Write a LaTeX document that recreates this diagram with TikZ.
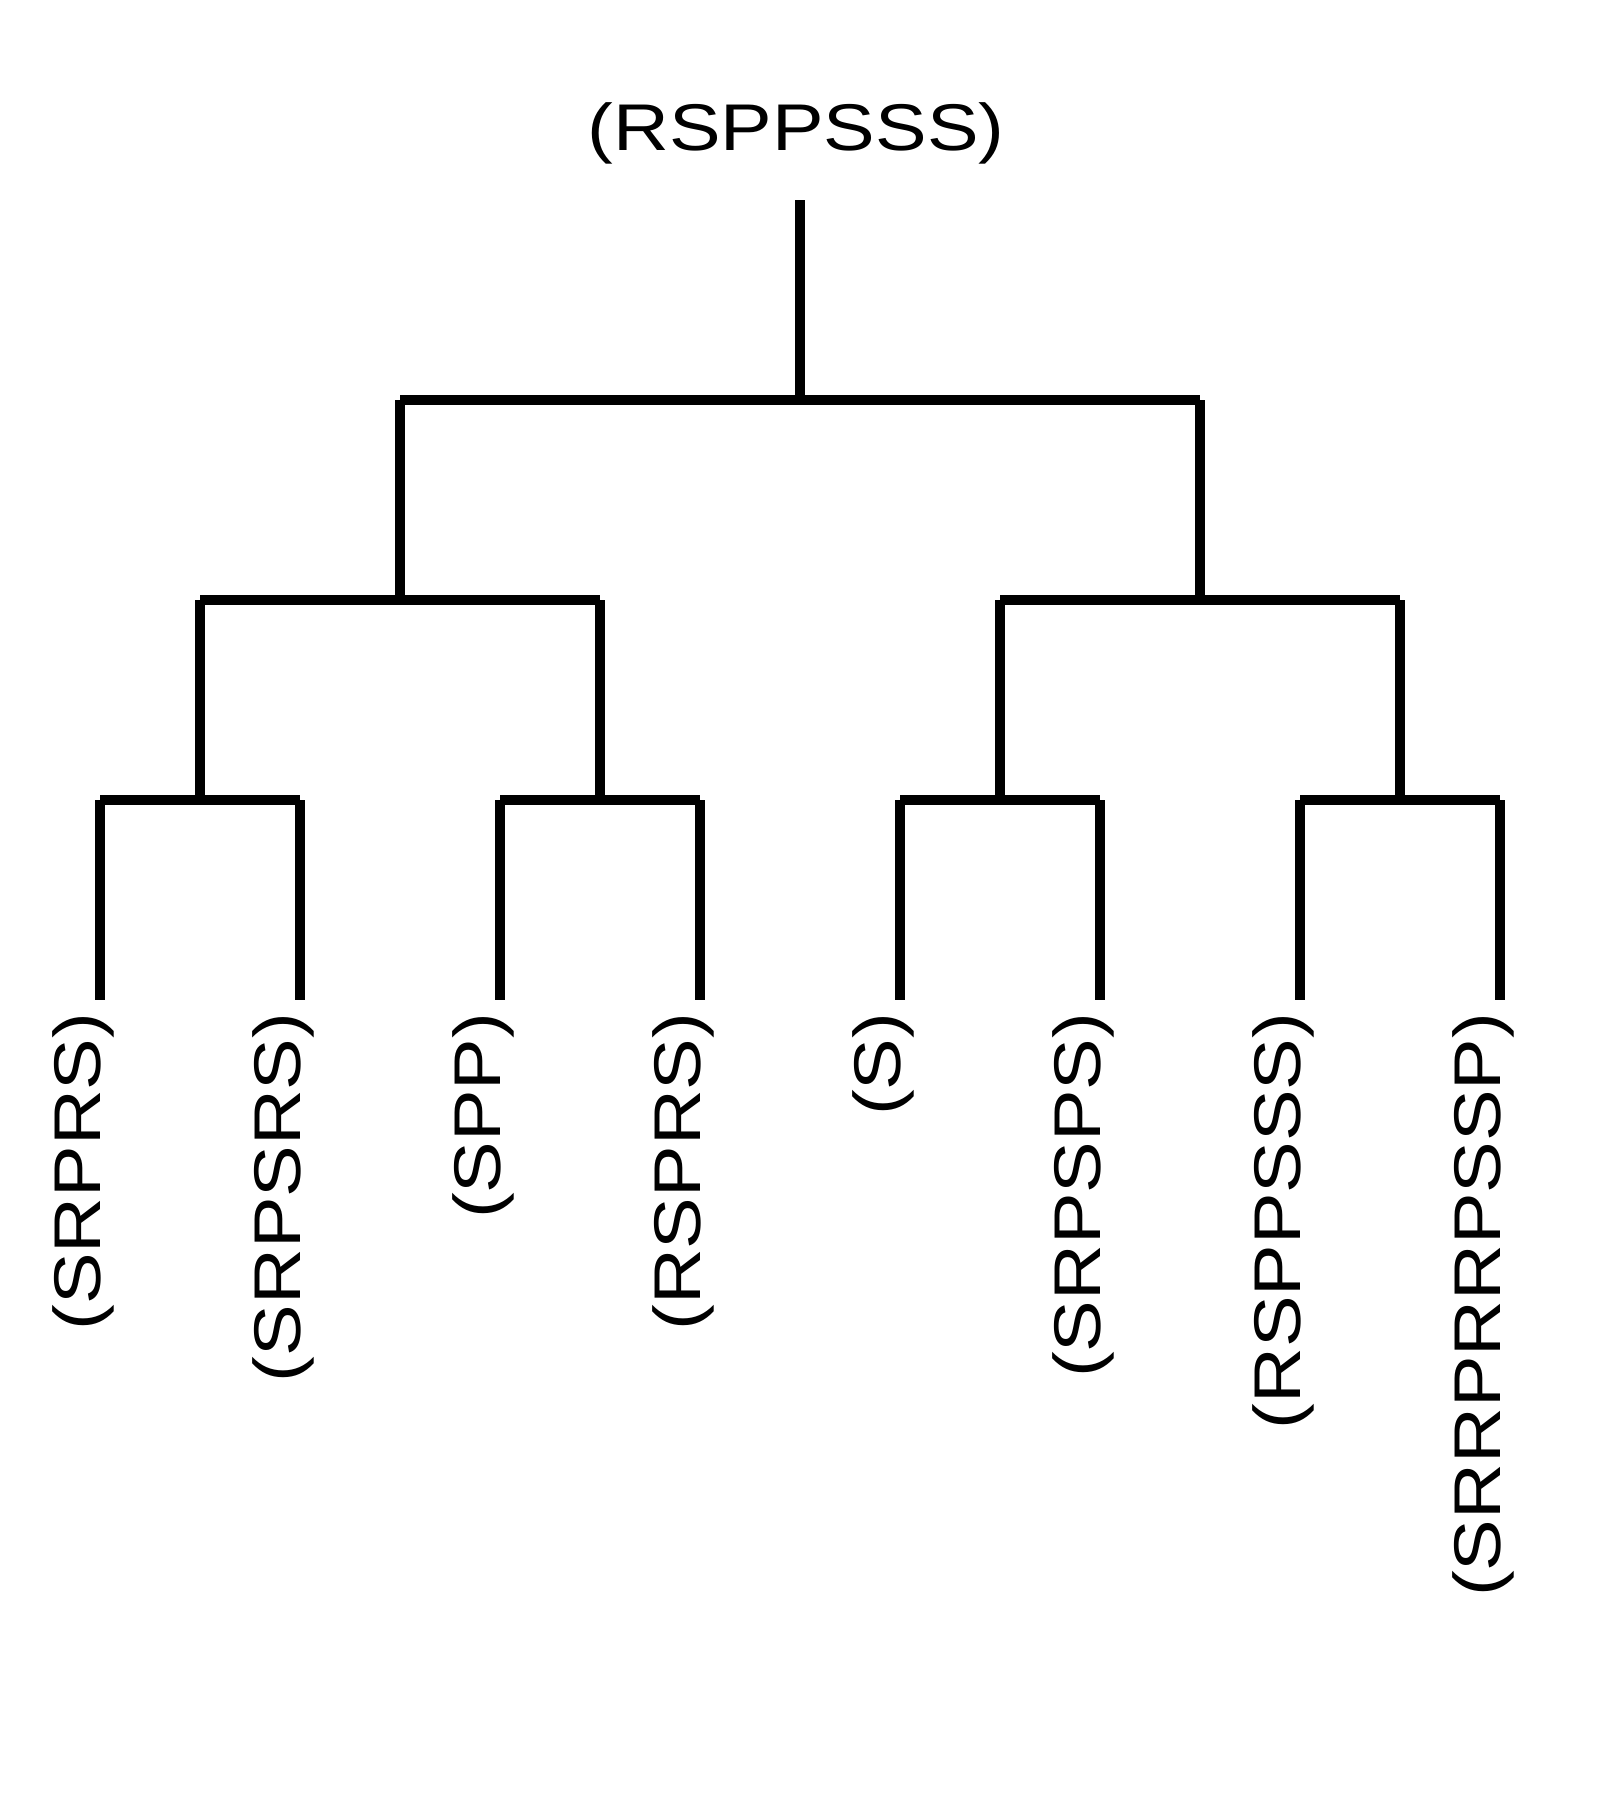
\documentclass[tikz,border=0pt]{standalone}
\usepackage{fontspec}
\newfontfamily\treefont{Liberation Sans}[FakeStretch=1.17]
\usetikzlibrary{positioning}
\tikzstyle{branch} = [line width=1mm, line cap=butt, draw=black]
\tikzstyle{leaf} = [rotate=90, anchor=base east, inner sep=0pt, font=\treefont\fontsize{18.8}{22}\selectfont]
\tikzstyle{rootlabel} = [anchor=base, inner sep=0pt, font=\treefont\fontsize{18.8}{22}\selectfont]

\begin{document}
\begin{tikzpicture}
\useasboundingbox (0,0) rectangle (16,-18);

\node (root) [rootlabel] at (7.96,-1.5) {(RSPPSSS)};

% leaves
\foreach \i/\txt in {1/SRPRS,2/SRPSRS,3/SPP,4/RSPRS,5/S,6/SRPSPS,7/RSPPSSS,8/SRRPRRPSSP}
{
  \coordinate (t\i) at (2*\i-1,-8);
  \coordinate (e\i) at (2*\i-1,-10);
  \node (l\i) [leaf] at (2*\i-1,-10.12) {(\txt)};
  \draw [branch] (t\i) -- (e\i);
}

% third level
\coordinate (m1) at (2,-8);
\coordinate (m2) at (6,-8);
\coordinate (m3) at (10,-8);
\coordinate (m4) at (14,-8);
\coordinate (u1) at (2,-6);
\coordinate (u2) at (6,-6);
\coordinate (u3) at (10,-6);
\coordinate (u4) at (14,-6);
\draw [branch] (t1) -- (t2);
\draw [branch] (t3) -- (t4);
\draw [branch] (t5) -- (t6);
\draw [branch] (t7) -- (t8);
\draw [branch] (u1) -- (m1);
\draw [branch] (u2) -- (m2);
\draw [branch] (u3) -- (m3);
\draw [branch] (u4) -- (m4);

% second level
\coordinate (v1) at (4,-6);
\coordinate (v2) at (12,-6);
\coordinate (w1) at (4,-4);
\coordinate (w2) at (12,-4);
\draw [branch] (u1) -- (u2);
\draw [branch] (u3) -- (u4);
\draw [branch] (w1) -- (v1);
\draw [branch] (w2) -- (v2);

% first level
\coordinate (r0) at (8,-2);
\coordinate (r1) at (8,-4);
\draw [branch] (w1) -- (w2);
\draw [branch] (r0) -- (r1);

\end{tikzpicture}
\end{document}
